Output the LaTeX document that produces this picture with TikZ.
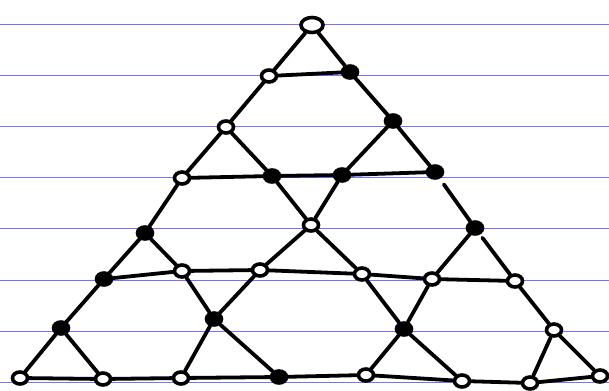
\documentclass[tikz,border=0pt]{standalone}
\usepackage{tikz}
\usetikzlibrary{shapes.geometric}

\begin{document}
\begin{tikzpicture}[
  x=1pt, y=-1pt,
  ruleline/.style={draw=blue!55!white, line width=1.1pt},
  knot/.style={ellipse, draw, line width=3.6pt, fill=white, minimum width=15pt, minimum height=12pt, inner sep=0pt},
  blob/.style={knot, fill=black},
  stroke/.style={line width=3.8pt, line cap=round, line join=round},
]
  \useasboundingbox (0,0) rectangle (609,390);

  % === Ruled paper ===
  \draw[ruleline] (0,24.5) -- (609,24.5);
  \draw[ruleline] (0,75.5) -- (609,75.5);
  \draw[ruleline] (0,126.5) -- (609,126.5);
  \draw[ruleline] (0,177.5) -- (609,177.5);
  \draw[ruleline] (0,228.5) -- (609,228.5);
  \draw[ruleline] (0,280.5) -- (609,280.5);
  \draw[ruleline] (0,331.5) -- (609,331.5);
  \draw[ruleline] (0,382.5) -- (609,382.5);

  % === Left side ===
  \node[knot, minimum width=22pt, minimum height=15pt] (A) at (312,25) {};
  \node[knot] (L1) at (269,76) {};
  \node[knot] (L2) at (226,127) {};
  \node[knot] (L3) at (182,178) {};
  \node[blob] (L4) at (145,233) {};
  \node[blob] (L5) at (104,279) {};
  \node[blob] (L6) at (61,328) {};
  \node[knot] (B) at (20,378) {};

  % === Right side ===
  \node[blob] (R1) at (350,72) {};
  \node[blob] (R2) at (393,121) {};
  \node[blob] (R3) at (435,172) {};
  \node[blob] (R4) at (475,228) {};
  \node[knot] (R5) at (515,281) {};
  \node[knot] (R6) at (554,330) {};
  \node[knot] (C) at (600,376) {};

  % === Inner knots ===
  \node[blob] (M) at (272,176) {};
  \node[blob] (N) at (342,175) {};
  \node[knot] (X) at (311,225) {};
  \node[knot] (P1) at (182,271) {};
  \node[knot] (P2) at (260,270) {};
  \node[knot] (P3) at (362,274) {};
  \node[knot] (P4) at (432,279) {};
  \node[blob] (S1) at (214,319) {};
  \node[blob] (S2) at (404,329) {};

  % === Bottom row ===
  \node[knot] (Q1) at (103,379) {};
  \node[knot] (Q2) at (181,378) {};
  \node[blob] (Q3) at (279,377) {};
  \node[knot] (Q4) at (366,375) {};
  \node[knot] (Q5) at (462,381) {};
  \node[knot] (Q6) at (530,383) {};

  % === Outer sides ===
  \draw[stroke] (A) -- (L1) -- (L2) -- (L3) -- (L4) -- (L5) -- (L6) -- (B);
  \draw[stroke] (A) -- (R1) -- (R2) -- (R3);
  \draw[stroke, shorten <=7pt] (R3) -- (R4);
  \draw[stroke, shorten <=4pt] (R4) -- (R5);
  \draw[stroke] (R5) -- (R6) -- (C);

  % === Horizontals ===
  \draw[stroke] (L1) -- (R1);
  \draw[stroke] (L3) -- (M) -- (N) -- (R3);
  \draw[stroke] (L5) -- (P1) -- (P2) -- (P3) -- (P4) -- (R5);
  \draw[stroke] (B) -- (Q1) -- (Q2) -- (Q3) -- (Q4) -- (Q5) -- (Q6) -- (C);

  % === Diagonals ===
  \draw[stroke] (L2) -- (M) -- (X) -- (P3) -- (S2) -- (Q5);
  \draw[stroke] (R2) -- (N) -- (X) -- (P2) -- (S1) -- (Q2);
  \draw[stroke] (L4) -- (P1) -- (S1) -- (Q3);
  \draw[stroke] (R4) -- (P4) -- (S2) -- (Q4);
  \draw[stroke] (L6) -- (Q1);
  \draw[stroke] (R6) -- (Q6);

\end{tikzpicture}
\end{document}
